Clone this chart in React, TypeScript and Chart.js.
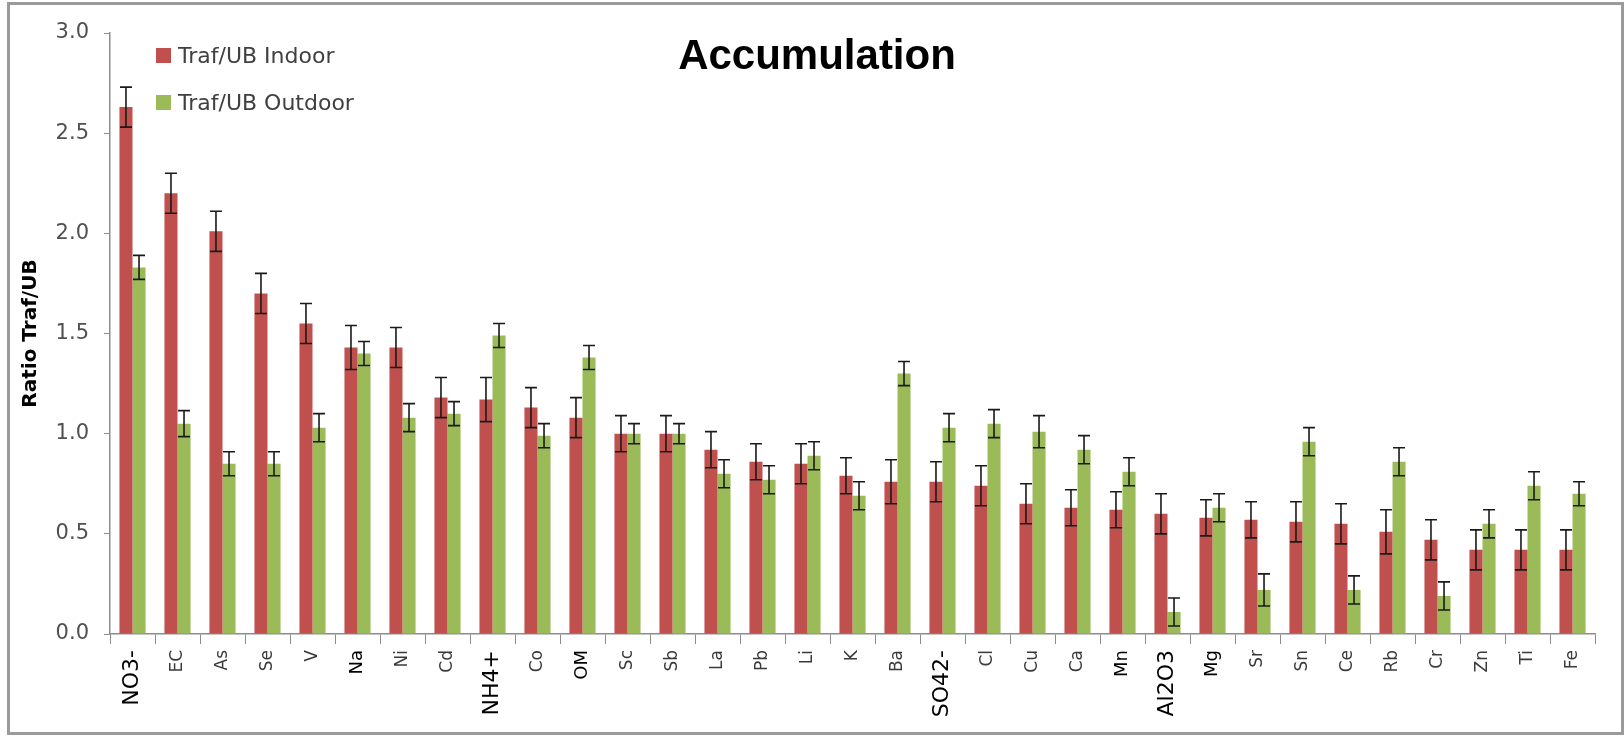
import React, { useEffect, useRef } from 'react';
import { Chart, registerables } from 'chart.js';

Chart.register(...registerables);

const categories = ['NO3-', 'EC', 'As', 'Se', 'V', 'Na', 'Ni', 'Cd', 'NH4+', 'Co', 'OM', 'Sc', 'Sb', 'La', 'Pb', 'Li', 'K', 'Ba', 'SO42-', 'Cl', 'Cu', 'Ca', 'Mn', 'Al2O3', 'Mg', 'Sr', 'Sn', 'Ce', 'Rb', 'Cr', 'Zn', 'Ti', 'Fe'];

const indoor = [2.63, 2.2, 2.01, 1.7, 1.55, 1.43, 1.43, 1.18, 1.17, 1.13, 1.08, 1.0, 1.0, 0.92, 0.86, 0.85, 0.79, 0.76, 0.76, 0.74, 0.65, 0.63, 0.62, 0.6, 0.58, 0.57, 0.56, 0.55, 0.51, 0.47, 0.42, 0.42, 0.42];
const indoorErr = [0.1, 0.1, 0.1, 0.1, 0.1, 0.11, 0.1, 0.1, 0.11, 0.1, 0.1, 0.09, 0.09, 0.09, 0.09, 0.1, 0.09, 0.11, 0.1, 0.1, 0.1, 0.09, 0.09, 0.1, 0.09, 0.09, 0.1, 0.1, 0.11, 0.1, 0.1, 0.1, 0.1];

const outdoor = [1.83, 1.05, 0.85, 0.85, 1.03, 1.4, 1.08, 1.1, 1.49, 0.99, 1.38, 1.0, 1.0, 0.8, 0.77, 0.89, 0.69, 1.3, 1.03, 1.05, 1.01, 0.92, 0.81, 0.11, 0.63, 0.22, 0.96, 0.22, 0.86, 0.19, 0.55, 0.74, 0.7];
const outdoorErr = [0.06, 0.065, 0.06, 0.06, 0.07, 0.06, 0.07, 0.06, 0.06, 0.06, 0.06, 0.05, 0.05, 0.07, 0.07, 0.07, 0.07, 0.06, 0.07, 0.07, 0.08, 0.07, 0.07, 0.07, 0.07, 0.08, 0.07, 0.07, 0.07, 0.07, 0.07, 0.07, 0.06];

const seriesNames = ['Traf/UB Indoor', 'Traf/UB Outdoor'];
const titleText = 'Accumulation';
const yAxisTitle = 'Ratio Traf/UB';
const yMin = 0;
const yMax = 3.0;
const yStep = 0.5;

const RED = '#C0504D';
const GREEN = '#9BBB59';
const BIG_LABELS = new Set(['NO3-', 'NH4+', 'SO42-', 'Al2O3']);
const MED_LABELS = new Set(['Mn', 'Mg', 'Na', 'OM']);

const overlayPlugin = {
  id: 'overlay',
  beforeDraw(chart: any) {
    const { ctx } = chart;
    ctx.save();
    ctx.fillStyle = '#ffffff';
    ctx.fillRect(0, 0, chart.width, chart.height);
    ctx.restore();
  },
  afterDatasetsDraw(chart: any) {
    const { ctx } = chart;
    const yScale = chart.scales.y;
    ctx.save();
    ctx.strokeStyle = '#1a1a1a';
    ctx.lineWidth = 1.6;
    chart.data.datasets.forEach((ds: any, di: number) => {
      const meta = chart.getDatasetMeta(di);
      meta.data.forEach((bar: any, i: number) => {
        const v = ds.data[i];
        const e = ds.errors[i];
        const top = yScale.getPixelForValue(v + e);
        const bot = yScale.getPixelForValue(v - e);
        const half = 6;
        ctx.beginPath();
        ctx.moveTo(bar.x, top);
        ctx.lineTo(bar.x, bot);
        ctx.moveTo(bar.x - half, top);
        ctx.lineTo(bar.x + half, top);
        ctx.moveTo(bar.x - half, bot);
        ctx.lineTo(bar.x + half, bot);
        ctx.stroke();
      });
    });
    ctx.restore();
  },
  afterDraw(chart: any) {
    const { ctx, chartArea } = chart;
    ctx.save();
    // title
    ctx.fillStyle = '#000000';
    ctx.font = 'bold 42px "Liberation Sans", Arial, sans-serif';
    ctx.textAlign = 'center';
    ctx.textBaseline = 'alphabetic';
    ctx.fillText(titleText, chartArea.left + 707, chartArea.top + 36);
    // legend
    ctx.font = '22px "DejaVu Sans", sans-serif';
    ctx.textAlign = 'left';
    const colors = [RED, GREEN];
    seriesNames.forEach((name, i) => {
      const y0 = chartArea.top + 15 + i * 47;
      ctx.fillStyle = colors[i];
      ctx.fillRect(chartArea.left + 46, y0, 15, 15);
      ctx.fillStyle = '#404040';
      ctx.fillText(name, chartArea.left + 68, y0 + 15);
    });
    // frame
    ctx.strokeStyle = '#9a9a9a';
    ctx.lineWidth = 3;
    ctx.strokeRect(8.5, 3.5, chart.width - 10, chart.height - 6);
    ctx.restore();
  },
};

export default function App() {
  const canvasRef = useRef<HTMLCanvasElement | null>(null);

  useEffect(() => {
    if (!canvasRef.current) return;
    const chart = new Chart(canvasRef.current, {
      type: 'bar',
      data: {
        labels: categories,
        datasets: [
          {
            label: seriesNames[0],
            data: indoor,
            errors: indoorErr,
            backgroundColor: RED,
            borderWidth: 0,
            categoryPercentage: 0.58,
            barPercentage: 1.0,
          } as any,
          {
            label: seriesNames[1],
            data: outdoor,
            errors: outdoorErr,
            backgroundColor: GREEN,
            borderWidth: 0,
            categoryPercentage: 0.58,
            barPercentage: 1.0,
          } as any,
        ],
      },
      options: {
        responsive: false,
        animation: false,
        layout: { padding: { left: 10, right: 29, top: 33, bottom: 8 } },
        plugins: {
          legend: { display: false },
          title: { display: false },
          tooltip: { enabled: false },
        },
        scales: {
          x: {
            grid: {
              offset: true,
              drawOnChartArea: false,
              drawTicks: true,
              tickLength: 10,
              color: '#8c8c8c',
            },
            border: { color: '#8c8c8c', width: 1.5 },
            ticks: {
              autoSkip: false,
              minRotation: 90,
              maxRotation: 90,
              padding: 6,
              color: (c: any) => {
                const l = categories[c.index];
                return BIG_LABELS.has(l) || MED_LABELS.has(l) ? '#000000' : '#3a3a3a';
              },
              font: (c: any) => {
                const l = categories[c.index];
                const size = BIG_LABELS.has(l) ? 22 : MED_LABELS.has(l) ? 18 : 17;
                return { family: '"DejaVu Sans", sans-serif', size };
              },
            },
            afterFit(scale: any) {
              scale.height = 94;
            },
          },
          y: {
            min: yMin,
            max: yMax,
            grid: {
              drawOnChartArea: false,
              drawTicks: true,
              tickLength: 6,
              color: '#8c8c8c',
            },
            border: { color: '#8c8c8c', width: 1.5 },
            ticks: {
              stepSize: yStep,
              padding: 15,
              color: '#505050',
              font: { family: '"DejaVu Sans", sans-serif', size: 21 },
              callback: (v: any) => Number(v).toFixed(1),
            },
            title: {
              display: true,
              text: yAxisTitle,
              color: '#000000',
              font: { family: '"DejaVu Sans", sans-serif', size: 20, weight: 'bold' },
              padding: { top: 9, bottom: 0 },
            },
            afterFit(scale: any) {
              scale.width = 100;
            },
          },
        },
      },
      plugins: [overlayPlugin],
    });
    return () => chart.destroy();
  }, []);

  return (
    <div style={{ position: 'absolute', left: 0, top: 0, width: 1624, height: 736, background: '#fff' }}>
      <canvas ref={canvasRef} width={1624} height={736} style={{ display: 'block', width: 1624, height: 736 }} />
    </div>
  );
}
